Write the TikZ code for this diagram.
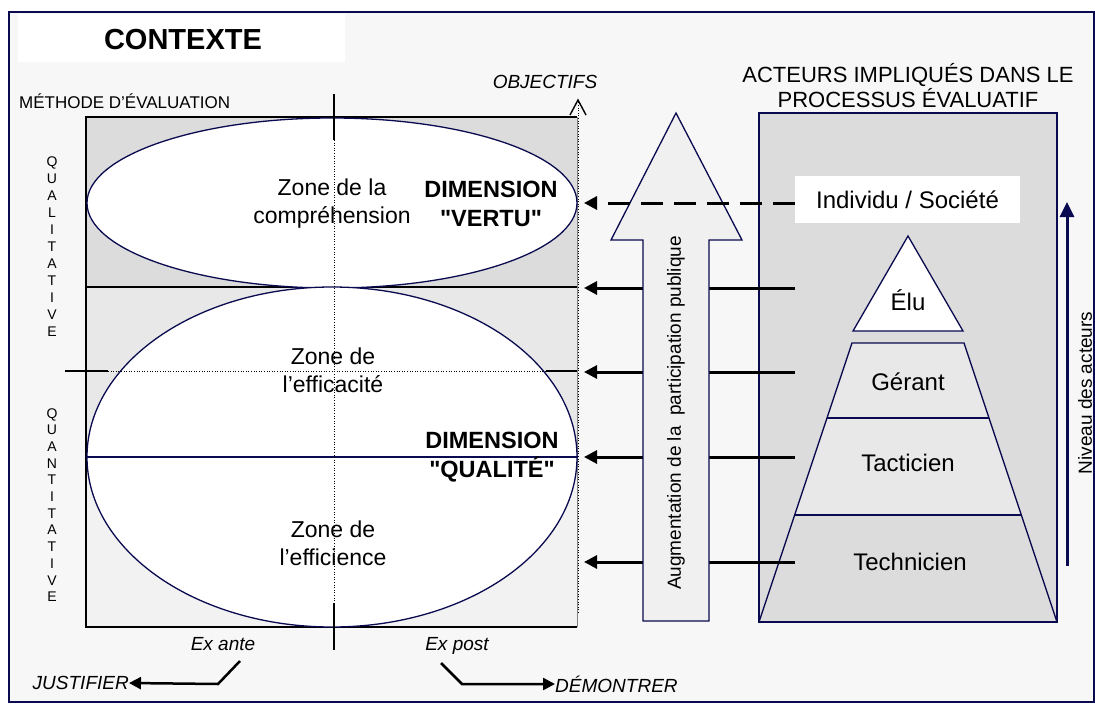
\documentclass[tikz,border=0pt]{standalone}
\usepackage{fontspec}
\setmainfont{Liberation Sans}[Ligatures=TeXOff]
\usetikzlibrary{arrows.meta}
\definecolor{navy}{RGB}{10,10,80}
\definecolor{paper}{RGB}{247,247,247}
\definecolor{greyA}{RGB}{220,220,220}
\definecolor{greyB}{RGB}{232,232,232}
\definecolor{greyC}{RGB}{242,242,242}
\definecolor{arrowfill}{RGB}{240,240,240}
\begin{document}
\begin{tikzpicture}[x=1pt,y=-1pt,
  lbl/.style={inner sep=0pt, align=center},
  zone/.style={lbl, font=\fontsize{23}{28}\selectfont},
  dimtext/.style={lbl, font=\fontsize{23.5}{29}\selectfont\bfseries},
  actor/.style={lbl, font=\fontsize{24}{28}\selectfont},
  note/.style={lbl, font=\fontsize{19}{23}\selectfont\itshape},
  letters/.style={lbl, font=\fontsize{14}{17}\selectfont},
  feed/.style={line width=3pt, -{Triangle[length=13pt,width=13pt]}},
  outline/.style={draw=navy, line width=1.3pt},
  axis/.style={line width=1.2pt},
  dots/.style={line width=1pt, dash pattern=on 1pt off 1.6pt},
]
\useasboundingbox (0,0) rectangle (1095,704);
\fill[white] (0,0) rectangle (1095,704);
% page frame
\draw[fill=paper, draw=navy, line width=1.5pt] (9,12) rectangle (1094,702);
\fill[white] (18,14) rectangle (345,62);
\node[lbl, font=\fontsize{29}{34}\selectfont\bfseries] (ctx) at (183,40) {CONTEXTE};
\node[lbl, anchor=west, font=\fontsize{17}{20}\selectfont] (meth) at (19,101) {MÉTHODE D’ÉVALUATION};

% evaluation method box, three bands
\fill[greyA] (86,117) rectangle (577,287);
\fill[greyB] (86,287) rectangle (577,457);
\fill[greyC] (86,457) rectangle (577,627);
\draw[gray, line width=0.6pt] (577,117) -- (577,627);
\draw[axis] (577,117) -- (86,117) -- (86,627) -- (577,627);
\draw[axis] (86,287) -- (577,287);

% zones
\draw[outline, fill=white] (332,203) ellipse [x radius=245, y radius=85];
\draw[outline, fill=white] (332,457) ellipse [x radius=245, y radius=170];
\draw[draw=navy, line width=1.2pt] (86,457) -- (578,457);

% axes
\coordinate (vtop) at (334,94);
\coordinate (vdot1) at (334,140);
\coordinate (vdot2) at (334,603);
\coordinate (vbot) at (334,650);
\draw[axis] (vtop) -- (vdot1);
\draw[dots] (vdot1) -- (vdot2);
\draw[axis] (vdot2) -- (vbot);
\coordinate (hl) at (65,371);
\coordinate (hdot1) at (108,371);
\coordinate (hdot2) at (546,371);
\coordinate (hr) at (577,371);
\draw[axis] (hl) -- (hdot1);
\draw[dots] (hdot1) -- (hdot2);
\draw[axis] (hdot2) -- (hr);
% objectives axis with an open arrow head
\coordinate (objlow) at (578,613);
\coordinate (objtop) at (578,100);
\coordinate (objL) at (570,115);
\coordinate (objR) at (586,115);
\draw[dots] (objlow) -- (objtop);
\draw[line width=1.4pt, line join=miter] (objL) -- (objtop) -- (objR);
\node[note] (obj) at (545,82) {OBJECTIFS};

% zone labels
\node[zone] (zcomp) at (332,204) {Zone de la\\compréhension};
\node[dimtext] (dvertu) at (491,204) {DIMENSION\\"VERTU"};
\node[zone] (zeffic) at (333,370) {Zone de\\l’efficacité};
\node[dimtext] (dqual) at (492,457) {DIMENSION\\"QUALITÉ"};
\node[zone] (zeffi) at (333,543) {Zone de\\l’efficience};

% side letters
\node[letters] (qual) at (52,247) {Q\\U\\A\\L\\I\\T\\A\\T\\I\\V\\E};
\node[letters, font=\fontsize{14}{16.7}\selectfont] (quant) at (52,505) {Q\\U\\A\\N\\T\\I\\T\\A\\T\\I\\V\\E};

% bottom notes
\node[note, anchor=base] (exante) at (223,650) {Ex ante};
\node[note, anchor=base] (expost) at (457,650) {Ex post};
\node[note, anchor=east] (just) at (129,683) {JUSTIFIER};
\node[note, anchor=west] (demo) at (555,684) {DÉMONTRER};
\coordinate (j1) at (240,661);
\coordinate (j2) at (218,684);
\coordinate (d1) at (441,663);
\coordinate (d2) at (462,684);
\draw[line width=2.5pt, -{Triangle[length=12pt,width=12pt]}] (j1) -- (j2) -- (just.east);
\draw[line width=2.5pt, -{Triangle[length=12pt,width=12pt]}] (d1) -- (d2) -- (demo.west);

% actors box
\node[lbl, font=\fontsize{22}{25}\selectfont] (acttitle) at (908,86) {ACTEURS IMPLIQUÉS DANS LE\\PROCESSUS ÉVALUATIF};
\draw[outline, fill=greyA] (759,113) rectangle (1057,622);
\fill[greyB] (852,343) -- (964,343) -- (1021.3,515) -- (794.7,515) -- cycle;
\draw[outline] (852,343) -- (964,343) -- (1057,622) -- (759,622) -- cycle;
\draw[draw=navy, line width=1.2pt] (827,418) -- (989,418);
\draw[draw=navy, line width=1.2pt] (794.7,515) -- (1021.3,515);
\draw[outline, fill=white] (908,236) -- (963,331) -- (853,331) -- cycle;
\fill[white] (795,176) rectangle (1020,223);
\node[actor] (indiv) at (907.5,199.5) {Individu / Société};
\node[actor] (elu) at (908,300) {Élu};
\node[actor] (gerant) at (908,382) {Gérant};
\node[actor] (tact) at (908,463) {Tacticien};
\node[actor] (tech) at (910,562) {Technicien};

% feedback arrows towards the method box
\coordinate (s1) at (795,288); \coordinate (t1) at (584,288);
\coordinate (s2) at (795,372); \coordinate (t2) at (584,372);
\coordinate (s3) at (795,457); \coordinate (t3) at (584,457);
\coordinate (s4) at (795,562); \coordinate (t4) at (584,562);
\draw[feed] (s1) -- (t1);
\draw[feed] (s2) -- (t2);
\draw[feed] (s3) -- (t3);
\draw[feed] (s4) -- (t4);

% public participation arrow
\draw[outline, fill=arrowfill] (676,113) -- (742,240) -- (709,240) -- (709,621) -- (643,621) -- (643,240) -- (611,240) -- cycle;
\node[lbl, rotate=90, font=\fontsize{19}{23}\selectfont] (augm) at (676,413) {Augmentation de la\ \ participation publique};

% dashed link from individual level
\coordinate (s0) at (795,203); \coordinate (t0) at (584,203);
\draw[feed, dash pattern=on 22pt off 11pt] (s0) -- (t0);

% actor level axis
\coordinate (nb) at (1067,566); \coordinate (nt) at (1067,202);
\draw[draw=navy, line width=3pt, -{Triangle[length=15pt,width=14pt]}] (nb) -- (nt);
\node[lbl, rotate=90, font=\fontsize{19}{23}\selectfont] (niv) at (1085,393) {Niveau des acteurs};
\end{tikzpicture}
\end{document}
